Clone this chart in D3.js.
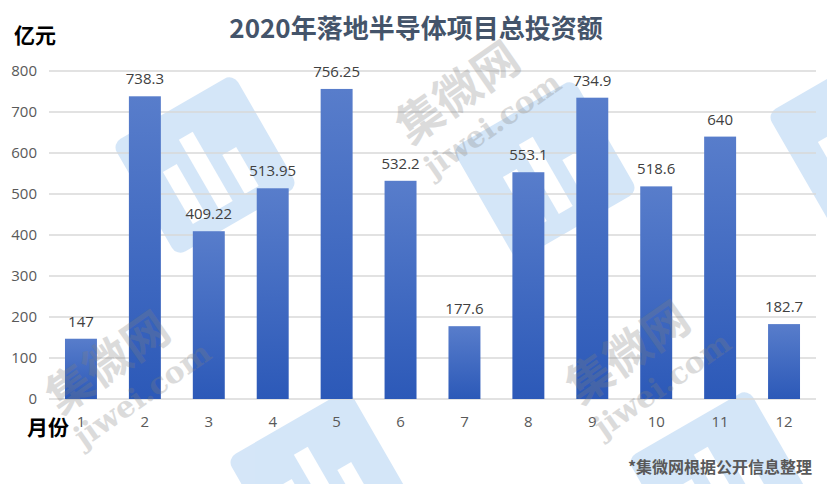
<!DOCTYPE html>
<html>
<head>
<meta charset="utf-8">
<title>2020年落地半导体项目总投资额</title>
<script src="https://cdn.jsdelivr.net/npm/d3@7"></script>
<style>
  body { margin: 0; background: #fff; }
  svg text { font-family: "Noto Sans CJK SC", "Open Sans", sans-serif; }
</style>
</head>
<body>
<svg id="chart" width="827" height="484"></svg>
<script>
// data
var months = ["1","2","3","4","5","6","7","8","9","10","11","12"];
var invest = [147, 738.3, 409.22, 513.95, 756.25, 532.2, 177.6, 553.1, 734.9, 518.6, 640, 182.7];
var yTicks = [0, 100, 200, 300, 400, 500, 600, 700, 800];

var margin = {top: 71, right: 11, bottom: 85, left: 49},
    width = 827 - margin.left - margin.right,
    height = 484 - margin.top - margin.bottom;

var svg = d3.select("#chart");

// gradient for bars
var defs = svg.append("defs");
var grad = defs.append("linearGradient")
    .attr("id", "barGrad")
    .attr("x1", 0).attr("y1", 0).attr("x2", 0).attr("y2", 1);
grad.append("stop").attr("offset", "0%").attr("stop-color", "#587dcb");
grad.append("stop").attr("offset", "100%").attr("stop-color", "#2c59b8");

// watermark logos sit under the bars
var wmBack = svg.append("g");

var g = svg.append("g")
    .attr("transform", "translate(" + margin.left + "," + margin.top + ")");

var x = d3.scaleBand().domain(months).range([0, width]).paddingInner(0.5).paddingOuter(0.25);
var y = d3.scaleLinear().domain([0, 800]).range([height, 0]);

// gridlines
g.append("g")
    .selectAll("line")
    .data(yTicks)
    .join("line")
    .attr("x1", 0).attr("x2", width)
    .attr("y1", function(d) { return y(d); })
    .attr("y2", function(d) { return y(d); })
    .attr("stroke", "#d9d9d9")
    .attr("stroke-width", 1.3);

// y axis labels
var yAxis = g.append("g")
    .call(d3.axisLeft(y).tickValues(yTicks).tickSize(0).tickPadding(12));
yAxis.select(".domain").remove();
yAxis.selectAll("text")
    .attr("fill", "#595959")
    .style("font-size", "15px")
    .style("font-family", "'Open Sans', sans-serif");

// x axis labels
var xAxis = g.append("g")
    .attr("transform", "translate(0," + height + ")")
    .call(d3.axisBottom(x).tickSize(0).tickPadding(17));
xAxis.select(".domain").remove();
xAxis.selectAll("text")
    .attr("fill", "#595959")
    .style("font-size", "15px")
    .style("font-family", "'Open Sans', sans-serif");

// bars
g.selectAll("rect.bar")
    .data(invest)
    .join("rect")
    .attr("class", "bar")
    .attr("x", function(d, i) { return x(months[i]); })
    .attr("y", function(d) { return y(d); })
    .attr("width", x.bandwidth())
    .attr("height", function(d) { return height - y(d); })
    .attr("fill", "url(#barGrad)");

// value labels
g.selectAll("text.val")
    .data(invest)
    .join("text")
    .attr("class", "val")
    .attr("x", function(d, i) { return x(months[i]) + x.bandwidth() / 2; })
    .attr("y", function(d) { return y(d) - 12; })
    .attr("text-anchor", "middle")
    .attr("fill", "#404040")
    .style("font-size", "15px")
    .style("font-family", "'Open Sans', sans-serif")
    .text(function(d) { return d; });

// title
svg.append("text")
    .attr("x", 416).attr("y", 38)
    .attr("text-anchor", "middle")
    .attr("fill", "#44546a")
    .style("font-size", "26px")
    .style("font-weight", "bold")
    .text("2020年落地半导体项目总投资额");

svg.append("text")
    .attr("x", 14).attr("y", 43)
    .attr("fill", "#000")
    .style("font-size", "21px")
    .style("font-weight", "bold")
    .text("亿元");

svg.append("text")
    .attr("x", 27).attr("y", 435)
    .attr("fill", "#000")
    .style("font-size", "21px")
    .style("font-weight", "bold")
    .text("月份");

svg.append("text")
    .attr("x", 812).attr("y", 473)
    .attr("text-anchor", "end")
    .attr("fill", "#595959")
    .style("font-size", "16px")
    .style("font-weight", "bold")
    .text("*集微网根据公开信息整理");

// watermarks (faint, approximate)
var logos = [[205, 165], [545, 170], [860, 135], [320, 480], [720, 480]];
logos.forEach(function(p) {
  var lg = wmBack.append("g")
      .attr("transform", "translate(" + p[0] + "," + p[1] + ") rotate(-30)")
      .attr("opacity", 0.22);
  lg.append("rect")
      .attr("x", -70).attr("y", -65).attr("width", 140).attr("height", 130)
      .attr("rx", 10).attr("fill", "#3f8fe0");
  [[-40, 60], [-10, 80], [20, 45]].forEach(function(b) {
    lg.append("rect")
        .attr("x", b[0]).attr("y", 45 - b[1]).attr("width", 16).attr("height", b[1])
        .attr("fill", "#fff");
  });
});
var wm = svg.append("g").attr("pointer-events", "none");
var wtext = [[470, 110], [640, 370], [120, 380]];
wtext.forEach(function(p) {
  var tg = wm.append("g")
      .attr("transform", "translate(" + p[0] + "," + p[1] + ") rotate(-35)")
      .attr("fill", "#808080")
      .attr("opacity", 0.28)
      .attr("text-anchor", "middle");
  tg.append("text")
      .attr("x", 0).attr("y", -5)
      .style("font-size", "46px")
      .style("font-weight", "bold")
      .text("集微网");
  tg.append("text")
      .attr("x", 10).attr("y", 35)
      .style("font-size", "30px")
      .style("font-family", "'DejaVu Serif', serif")
      .style("font-weight", "bold")
      .text("jiwei.com");
});
</script>
</body>
</html>
